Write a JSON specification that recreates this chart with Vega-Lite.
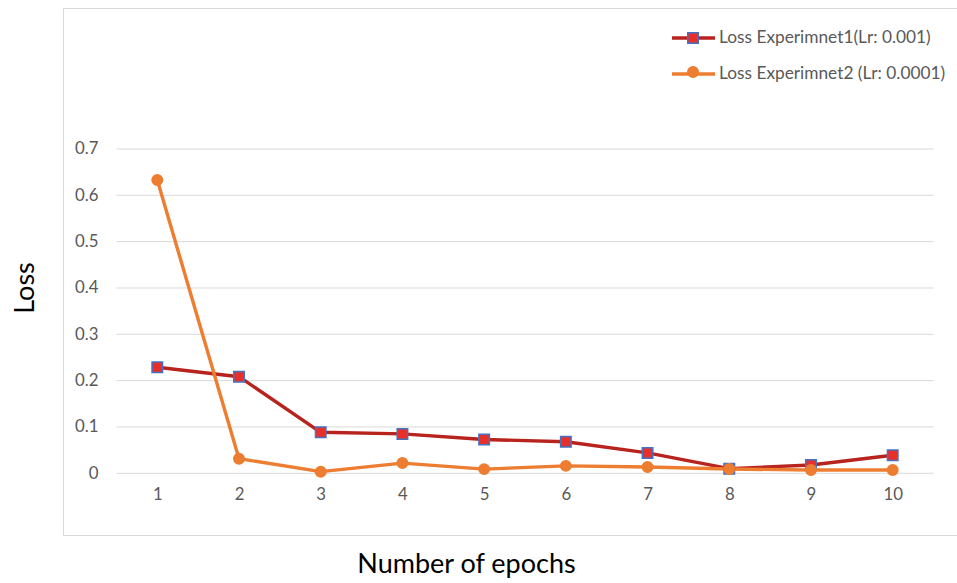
{
  "$schema": "https://vega.github.io/schema/vega-lite/v6.json",
  "width": 894,
  "height": 527,
  "autosize": {"type": "none"},
  "padding": {"left": 63, "top": 8, "right": 0, "bottom": 48},
  "background": "white",
  "config": {
    "font": "Lato",
    "view": {"stroke": "#D9D9D9", "strokeWidth": 1},
    "axisX": {
      "offset": -61.7, "domain": false, "ticks": false, "grid": false,
      "labelFont": "Lato", "labelFontSize": 16.8, "labelColor": "#595959", "labelPadding": 13,
      "titleFont": "Lato", "titleFontSize": 27, "titleFontWeight": "normal", "titleColor": "#000000",
      "titleX": 403, "titleY": 98.7, "titleBaseline": "alphabetic", "titleAlign": "center"
    },
    "axisY": {
      "offset": -53, "domain": false, "ticks": false, "grid": false,
      "labelFont": "Lato", "labelFontSize": 16.8, "labelColor": "#595959", "labelPadding": 18,
      "titleFont": "Lato", "titleFontSize": 27, "titleFontWeight": "normal", "titleColor": "#000000",
      "titleX": -83, "titleY": 279.5, "titleAngle": -90, "titleBaseline": "alphabetic", "titleAlign": "center"
    }
  },
  "datasets": {
    "loss": [
      {"epoch": 1, "loss": 0.229, "series": "Loss Experimnet1(Lr: 0.001)"},
      {"epoch": 2, "loss": 0.2085, "series": "Loss Experimnet1(Lr: 0.001)"},
      {"epoch": 3, "loss": 0.0885, "series": "Loss Experimnet1(Lr: 0.001)"},
      {"epoch": 4, "loss": 0.085, "series": "Loss Experimnet1(Lr: 0.001)"},
      {"epoch": 5, "loss": 0.073, "series": "Loss Experimnet1(Lr: 0.001)"},
      {"epoch": 6, "loss": 0.068, "series": "Loss Experimnet1(Lr: 0.001)"},
      {"epoch": 7, "loss": 0.044, "series": "Loss Experimnet1(Lr: 0.001)"},
      {"epoch": 8, "loss": 0.010, "series": "Loss Experimnet1(Lr: 0.001)"},
      {"epoch": 9, "loss": 0.018, "series": "Loss Experimnet1(Lr: 0.001)"},
      {"epoch": 10, "loss": 0.039, "series": "Loss Experimnet1(Lr: 0.001)"},
      {"epoch": 1, "loss": 0.633, "series": "Loss Experimnet2 (Lr: 0.0001)"},
      {"epoch": 2, "loss": 0.0315, "series": "Loss Experimnet2 (Lr: 0.0001)"},
      {"epoch": 3, "loss": 0.0035, "series": "Loss Experimnet2 (Lr: 0.0001)"},
      {"epoch": 4, "loss": 0.022, "series": "Loss Experimnet2 (Lr: 0.0001)"},
      {"epoch": 5, "loss": 0.009, "series": "Loss Experimnet2 (Lr: 0.0001)"},
      {"epoch": 6, "loss": 0.016, "series": "Loss Experimnet2 (Lr: 0.0001)"},
      {"epoch": 7, "loss": 0.0135, "series": "Loss Experimnet2 (Lr: 0.0001)"},
      {"epoch": 8, "loss": 0.0093, "series": "Loss Experimnet2 (Lr: 0.0001)"},
      {"epoch": 9, "loss": 0.007, "series": "Loss Experimnet2 (Lr: 0.0001)"},
      {"epoch": 10, "loss": 0.007, "series": "Loss Experimnet2 (Lr: 0.0001)"}
    ],
    "grid": [
      {"loss": 0}, {"loss": 0.1}, {"loss": 0.2}, {"loss": 0.3},
      {"loss": 0.4}, {"loss": 0.5}, {"loss": 0.6}, {"loss": 0.7}
    ]
  },
  "layer": [
    {
      "data": {"name": "grid"},
      "mark": {"type": "rule", "color": "#D9D9D9", "strokeWidth": 1},
      "encoding": {
        "x": {"datum": 0.5, "type": "quantitative", "title": "Number of epochs",
              "scale": {"domain": [-0.154, 10.787], "nice": false, "zero": false},
              "axis": {"values": [1, 2, 3, 4, 5, 6, 7, 8, 9, 10]}},
        "x2": {"datum": 10.5},
        "y": {"field": "loss", "type": "quantitative", "title": "Loss",
              "scale": {"domain": [-0.1332, 1.0043], "nice": false, "zero": false},
              "axis": {"values": [0, 0.1, 0.2, 0.3, 0.4, 0.5, 0.6, 0.7], "format": "~g"}}
      }
    },
    {
      "data": {"name": "loss"},
      "mark": {"type": "line", "strokeJoin": "round", "strokeCap": "round", "strokeWidth": 3.4},
      "encoding": {
        "x": {"field": "epoch", "type": "quantitative", "title": "Number of epochs",
              "scale": {"domain": [-0.154, 10.787], "nice": false, "zero": false},
              "axis": {"values": [1, 2, 3, 4, 5, 6, 7, 8, 9, 10]}},
        "y": {"field": "loss", "type": "quantitative", "title": "Loss",
              "scale": {"domain": [-0.1332, 1.0043], "nice": false, "zero": false},
              "axis": {"values": [0, 0.1, 0.2, 0.3, 0.4, 0.5, 0.6, 0.7], "format": "~g"}},
        "color": {
          "field": "series", "type": "nominal",
          "scale": {"range": ["#B8231D", "#ED7D31"]},
          "legend": {
            "orient": "none", "legendX": 607, "legendY": 22, "title": null, "padding": 0,
            "symbolType": "stroke", "symbolSize": 1849, "symbolStrokeWidth": 3.4,
            "clipHeight": 16, "rowPadding": 18, "labelOffset": 2,
            "labelFont": "Lato", "labelFontSize": 17.3, "labelColor": "#595959", "labelLimit": 400
          }
        }
      }
    },
    {
      "data": {"name": "loss"},
      "mark": {"type": "point", "filled": true, "opacity": 1, "size": 110, "strokeWidth": 1.5},
      "encoding": {
        "x": {"field": "epoch", "type": "quantitative", "title": "Number of epochs",
              "scale": {"domain": [-0.154, 10.787], "nice": false, "zero": false},
              "axis": {"values": [1, 2, 3, 4, 5, 6, 7, 8, 9, 10]}},
        "y": {"field": "loss", "type": "quantitative", "title": "Loss",
              "scale": {"domain": [-0.1332, 1.0043], "nice": false, "zero": false},
              "axis": {"values": [0, 0.1, 0.2, 0.3, 0.4, 0.5, 0.6, 0.7], "format": "~g"}},
        "shape": {
          "field": "series", "type": "nominal",
          "scale": {"domain": ["Loss Experimnet1(Lr: 0.001)", "Loss Experimnet2 (Lr: 0.0001)"], "range": ["square", "circle"]},
          "legend": {
            "orient": "none", "legendX": 624, "legendY": 22, "title": null, "padding": 0,
            "symbolSize": 110, "symbolStrokeWidth": 1.5, "symbolOpacity": 1,
            "clipHeight": 16, "rowPadding": 18, "labelExpr": "''"
          }
        },
        "fill": {
          "field": "series", "type": "nominal",
          "scale": {"domain": ["Loss Experimnet1(Lr: 0.001)", "Loss Experimnet2 (Lr: 0.0001)"], "range": ["#E8302A", "#ED7D31"]},
          "legend": {
            "orient": "none", "legendX": 624, "legendY": 22, "title": null, "padding": 0,
            "symbolSize": 110, "symbolStrokeWidth": 1.5, "symbolOpacity": 1,
            "clipHeight": 16, "rowPadding": 18, "labelExpr": "''"
          }
        },
        "stroke": {
          "field": "series", "type": "nominal",
          "scale": {"domain": ["Loss Experimnet1(Lr: 0.001)", "Loss Experimnet2 (Lr: 0.0001)"], "range": ["#4472C4", "#ED7D31"]},
          "legend": {
            "orient": "none", "legendX": 624, "legendY": 22, "title": null, "padding": 0,
            "symbolSize": 110, "symbolStrokeWidth": 1.5, "symbolOpacity": 1,
            "clipHeight": 16, "rowPadding": 18, "labelExpr": "''"
          }
        }
      }
    }
  ]
}
